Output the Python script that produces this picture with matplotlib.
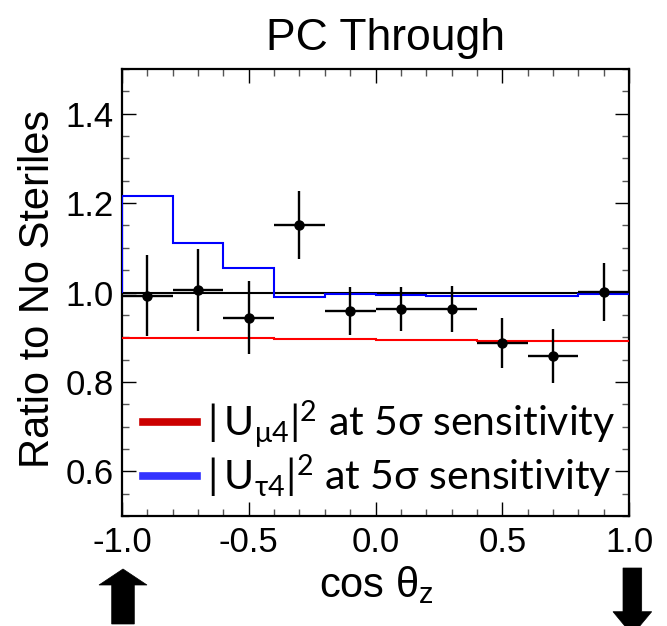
import numpy as np
import matplotlib
matplotlib.use("Agg")
import matplotlib.pyplot as plt
from matplotlib.patches import Polygon
from matplotlib.ticker import MultipleLocator, FormatStrFormatter

# ---- data ----
bin_edges = [-1.0, -0.8, -0.6, -0.4, -0.2, 0.0, 0.2, 0.4, 0.6, 0.8, 1.0]
bin_centers = [-0.9, -0.7, -0.5, -0.3, -0.1, 0.1, 0.3, 0.5, 0.7, 0.9]
data_ratio = [0.993, 1.006, 0.944, 1.151, 0.959, 0.963, 0.963, 0.888, 0.858, 1.002]
data_err = [0.091, 0.092, 0.081, 0.076, 0.053, 0.049, 0.052, 0.056, 0.060, 0.065]
x_err = [0.1] * 10
null_ratio = [1.0] * 10
mu4_ratio = [0.898, 0.898, 0.898, 0.897, 0.896, 0.894, 0.893, 0.892, 0.892, 0.892]
tau4_ratio = [1.217, 1.111, 1.054, 0.991, 0.996, 0.995, 0.992, 0.992, 0.992, 0.996]
mu4_label = r'$\mathregular{|\,U_{μ4}|^2}$ at 5σ sensitivity'
tau4_label = r'$\mathregular{|\,U_{τ4}|^2}$ at 5σ sensitivity'
title = "PC Through"
xlabel = r'cos $\mathregular{θ_z}$'
ylabel = "Ratio to No Steriles"
y_ticks = [0.6, 0.8, 1.0, 1.2, 1.4]

W, H = 667, 626
fig = plt.figure(figsize=(W / 100, H / 100), dpi=100)
ax = fig.add_axes([122 / W, 1 - 516 / H, (629 - 122) / W, (516 - 69) / H])

arial = ['Liberation Sans', 'DejaVu Sans']
calib = ['Lato', 'DejaVu Sans']

ax.stairs(null_ratio, bin_edges, baseline=None, color='black', lw=1.5, zorder=2)
ax.stairs(mu4_ratio, bin_edges, baseline=None, color='#ff0000', lw=1.5, zorder=3)
ax.stairs(tau4_ratio, bin_edges, baseline=1.0, color='#0000ff', lw=1.5, zorder=4)
ax.errorbar(bin_centers, data_ratio, yerr=data_err, xerr=x_err, fmt='o',
            color='black', ms=6.5, elinewidth=1.7, capsize=0, zorder=5)

ax.set_xlim(-1, 1)
ax.set_ylim(0.5, 1.5)
ax.xaxis.set_major_locator(MultipleLocator(0.5))
ax.xaxis.set_minor_locator(MultipleLocator(0.1))
ax.set_yticks(y_ticks)
ax.yaxis.set_minor_locator(MultipleLocator(0.05))
ax.xaxis.set_major_formatter(FormatStrFormatter('%.1f'))
ax.yaxis.set_major_formatter(FormatStrFormatter('%.1f'))
ax.tick_params(which='both', direction='in', top=True, right=True, width=1.0)
ax.tick_params(which='major', length=10)
ax.tick_params(which='minor', length=5, color='#555555')
ax.tick_params(axis='x', which='major', pad=7)
ax.tick_params(axis='y', which='major', pad=6)
for lab in ax.get_xticklabels() + ax.get_yticklabels():
    lab.set_family(arial)
    lab.set_fontsize(25)
for sp in ax.spines.values():
    sp.set_linewidth(1.6)

fig.text(386 / W, 1 - 50 / H, title, family=arial, fontsize=32, ha='center', va='baseline')
fig.text(376 / W, 1 - 597 / H, xlabel, family=arial, fontsize=30, ha='center', va='baseline')
fig.text(38 / W, 1 - 289 / H, ylabel, family=arial, fontsize=30, rotation=90, ha='center', va='center')

leg = ax.legend(
    [plt.Line2D([], [], color='#cc0000', lw=5.5), plt.Line2D([], [], color='#3333ff', lw=5.5)],
    [mu4_label, tau4_label], loc='lower left', bbox_to_anchor=(0.01, 0.0),
    frameon=False, prop={'family': calib, 'size': 29.5}, handlelength=1.3,
    handletextpad=0.25, labelspacing=0.05, borderaxespad=0)

def arrow(pts):
    fig.patches.append(Polygon([(x / W, 1 - y / H) for x, y in pts], closed=True,
                               transform=fig.transFigure, facecolor='black',
                               edgecolor='black', lw=0.5, figure=fig))

arrow([(123, 569), (147, 585), (134.3, 585), (134.3, 624), (111.7, 624), (111.7, 585), (99, 585)])
arrow([(623, 568), (641.7, 568), (641.7, 611.7), (651.7, 611.7), (632.3, 635),
       (613, 611.7), (623, 611.7)])

fig.savefig('out.png', dpi=100)
